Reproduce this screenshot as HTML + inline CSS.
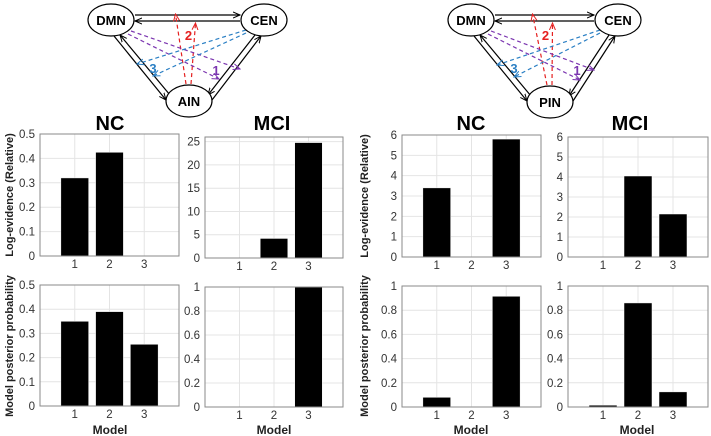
<!DOCTYPE html>
<html><head><meta charset="utf-8">
<style>
html,body{margin:0;padding:0;background:#fff;}
svg{display:block;font-family:"Liberation Sans",sans-serif;}
</style></head>
<body>
<svg id="fig" width="711" height="436" viewBox="0 0 711 436" xmlns="http://www.w3.org/2000/svg">
<defs>
<marker id="ak" markerWidth="8" markerHeight="8" refX="7" refY="4" orient="auto" markerUnits="userSpaceOnUse"><path d="M0,1 L7,4 L0,7" fill="none" stroke="#000" stroke-width="1"/></marker>
<marker id="ar" markerWidth="8" markerHeight="8" refX="7" refY="4" orient="auto" markerUnits="userSpaceOnUse"><path d="M0,1 L7,4 L0,7" fill="none" stroke="#e52020" stroke-width="1"/></marker>
<marker id="ap" markerWidth="8" markerHeight="8" refX="7" refY="4" orient="auto" markerUnits="userSpaceOnUse"><path d="M0,1 L7,4 L0,7" fill="none" stroke="#7b35b0" stroke-width="1"/></marker>
<marker id="ab" markerWidth="8" markerHeight="8" refX="7" refY="4" orient="auto" markerUnits="userSpaceOnUse"><path d="M0,1 L7,4 L0,7" fill="none" stroke="#2a7fc4" stroke-width="1"/></marker>
</defs>
</svg>
<script>
// chart data
const categories = ["1","2","3"];
const ncLeftEvidence = [0.32, 0.425, 0];
const mciLeftEvidence = [0, 4.2, 24.8];
const ncLeftPosterior = [0.35, 0.39, 0.255];
const mciLeftPosterior = [0, 0, 1];
const ncRightEvidence = [3.4, 0, 5.8];
const mciRightEvidence = [0, 4.05, 2.15];
const ncRightPosterior = [0.08, 0.003, 0.915];
const mciRightPosterior = [0.015, 0.86, 0.125];
const ticksHalf = [0, 0.1, 0.2, 0.3, 0.4, 0.5];
const ticks25 = [0, 5, 10, 15, 20, 25];
const ticksOne = [0, 0.2, 0.4, 0.6, 0.8, 1];
const ticksSix = [0, 1, 2, 3, 4, 5, 6];

const NS = "http://www.w3.org/2000/svg";
const svg = document.getElementById("fig");
function mk(tag, attrs, parent) {
  const e = document.createElementNS(NS, tag);
  for (const k in attrs) e.setAttribute(k, attrs[k]);
  (parent || svg).appendChild(e);
  return e;
}
function txt(s, attrs, parent) { const t = mk("text", attrs, parent); t.textContent = s; return t; }

function panel(name, box, xlim, ylim, vals, ticks, fmt) {
  const g = mk("g", {});
  
  
  const [L, T, R, B] = box;
  const xs = v => L + (v - xlim[0]) / (xlim[1] - xlim[0]) * (R - L);
  const ys = v => B - (v - ylim[0]) / (ylim[1] - ylim[0]) * (B - T);
  mk("rect", {x: L, y: T, width: R - L, height: B - T, fill: "#fff"}, g);
  categories.forEach((c, i) => {
    mk("line", {x1: xs(i + 1), x2: xs(i + 1), y1: T, y2: B, stroke: "#e4e4e4", "stroke-width": 1}, g);
  });
  ticks.forEach(t => {
    mk("line", {x1: L, x2: R, y1: ys(t), y2: ys(t), stroke: "#e4e4e4", "stroke-width": 1}, g);
    const lb = txt(fmt(t), {x: L - 5, y: ys(t) + 4, "text-anchor": "end", "font-size": 11.5, fill: "#333"}, g);
    
    
  });
  vals.forEach((v, i) => {
    const b = mk("rect", {x: xs(i + 1 - 0.4), y: ys(v), width: xs(i + 1.4) - xs(i + 0.6), height: Math.max(0, ys(0) - ys(v)), fill: "#000", stroke: "#fff", "stroke-width": 0.5}, g);
    
    
    const lb = txt(categories[i], {x: xs(i + 1), y: B + 12, "text-anchor": "middle", "font-size": 11.5, fill: "#333"}, g);
    
    
  });
  mk("rect", {x: L, y: T, width: R - L, height: B - T, fill: "none", stroke: "#8a8a8a", "stroke-width": 1}, g);
}
const f1 = t => t === 0 ? "0" : t.toFixed(1);
const fi = t => String(t);
const f2 = t => (t === 0 || t === 1) ? String(t) : t.toFixed(1);

panel("nc-left-evidence-chart", [40, 134, 179, 256], [0, 4], [0, 0.5], ncLeftEvidence, ticksHalf, f1);
panel("mci-left-evidence-chart", [205, 137, 343, 258], [0, 4], [0, 26], mciLeftEvidence, ticks25, fi);
panel("nc-left-posterior-chart", [40, 285, 179, 406], [0, 4], [0, 0.5], ncLeftPosterior, ticksHalf, f1);
panel("mci-left-posterior-chart", [205, 287, 343, 407], [0, 4], [0, 1], mciLeftPosterior, ticksOne, f2);
panel("nc-right-evidence-chart", [402, 135, 541, 257], [0, 4], [0, 6], ncRightEvidence, ticksSix, fi);
panel("mci-right-evidence-chart", [568, 137, 708, 257], [0, 4], [0, 6], mciRightEvidence, ticksSix, fi);
panel("nc-right-posterior-chart", [402, 286, 541, 407], [0, 4], [0, 1], ncRightPosterior, ticksOne, f2);
panel("mci-right-posterior-chart", [568, 286, 708, 407], [0, 4], [0, 1], mciRightPosterior, ticksOne, f2);

[["NC",110,"nc-left-title"],["MCI",272,"mci-left-title"],["NC",471,"nc-right-title"],["MCI",630,"mci-right-title"]].forEach(a => {
  const t = txt(a[0], {x: a[1], y: 130, "text-anchor": "middle", "font-size": 20, "font-weight": "bold"});
  
  
});
[110, 274, 471, 637].forEach(x => {
  const t = txt("Model", {x: x, y: 434, "text-anchor": "middle", "font-size": 12, "font-weight": "bold", fill: "#222"});
  
  
});
[[9,195,"Log-evidence (Relative)"],[9,346,"Model posterior probability"],[364,196,"Log-evidence (Relative)"],[364,346,"Model posterior probability"]].forEach(a => {
  const t = txt(a[2], {x: a[0], y: a[1], "text-anchor": "middle", "font-size": 11, "font-weight": "bold", fill: "#222", transform: `rotate(-90 ${a[0]} ${a[1]})`, dy: 4});
  
  
});

function diagram(name, d, c, s, sName) {
  const g = mk("g", {});
  
  
  const L = (x1, y1, x2, y2, col, mark, dash) => mk("line", {x1, y1, x2, y2, stroke: col, "stroke-width": 1.2, "marker-end": "url(#" + mark + ")", "stroke-dasharray": dash || "none"}, g);
  L(d[0] + 24, d[1] - 5, c[0] - 24, c[1] - 5, "#000", "ak");
  L(c[0] - 24, c[1] + 1, d[0] + 24, d[1] + 1, "#000", "ak");
  L(d[0] + 3, d[1] + 16, s[0] - 23, s[1] - 1, "#000", "ak");
  L(s[0] - 19, s[1] - 6, d[0] + 9, d[1] + 15, "#000", "ak");
  L(c[0] - 9, c[1] + 15, s[0] + 19, s[1] - 6, "#000", "ak");
  L(s[0] + 23, s[1] - 1, c[0] - 3, c[1] + 16, "#000", "ak");
  L(s[0] - 3, s[1] - 17, (d[0] + c[0]) / 2 - 12, d[1] - 6, "#e52020", "ar", "4,3");
  L(s[0] + 2, s[1] - 17, (d[0] + c[0]) / 2 + 8, d[1] + 3, "#e52020", "ar", "4,3");
  L(d[0] + 20, d[1] + 11, c[0] - 24, s[1] - 32, "#7b35b0", "ap", "4,3");
  L(d[0] + 17, d[1] + 14, s[0] + 30, s[1] - 22, "#7b35b0", "ap", "4,3");
  L(c[0] - 18, c[1] + 10, d[0] + 26, s[1] - 37, "#2a7fc4", "ab", "4,3");
  L(c[0] - 18, c[1] + 13, s[0] - 36, s[1] - 25, "#2a7fc4", "ab", "4,3");
  txt("2", {x: (d[0] + c[0]) / 2 + 1, y: 40, "font-size": 13, "font-weight": "bold", fill: "#e52020", "text-anchor": "middle"}, g);
  txt("1", {x: s[0] + 27, y: 75, "font-size": 13, "font-weight": "bold", fill: "#7b35b0", "text-anchor": "middle"}, g);
  txt("3", {x: s[0] - 36, y: 73, "font-size": 13, "font-weight": "bold", fill: "#2a7fc4", "text-anchor": "middle"}, g);
  [[d, "DMN"], [c, "CEN"], [s, sName]].forEach(n => {
    const e = mk("ellipse", {cx: n[0][0], cy: n[0][1], rx: 23, ry: 16, fill: "#fff", stroke: "#000", "stroke-width": 1.2}, g);
    
    
    txt(n[1], {x: n[0][0], y: n[0][1] + 5, "text-anchor": "middle", "font-size": 13, "font-weight": "bold"}, g);
  });
}
diagram("ain-network-diagram", [111, 20], [264, 20], [189, 101], "AIN");
diagram("pin-network-diagram", [471, 20], [618, 20], [550, 102], "PIN");
</script>
</body></html>
